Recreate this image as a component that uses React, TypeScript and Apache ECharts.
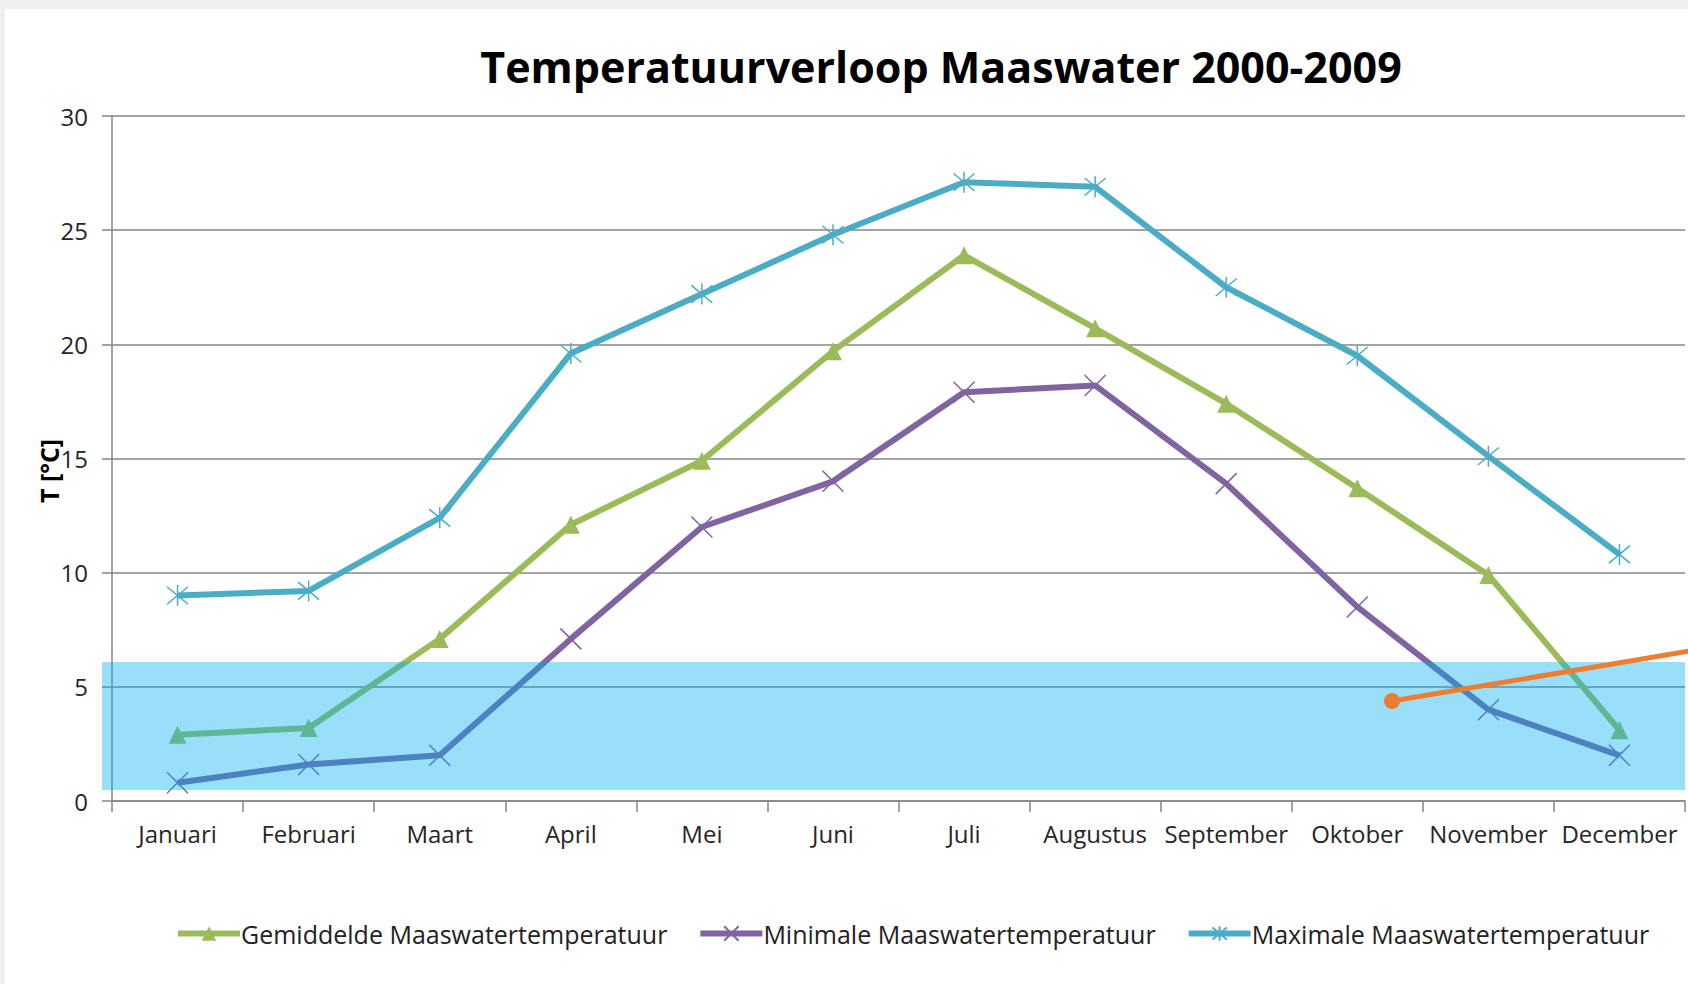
import React, { useEffect, useRef } from "react";
import * as echarts from "echarts";

const months = ["Januari", "Februari", "Maart", "April", "Mei", "Juni", "Juli", "Augustus", "September", "Oktober", "November", "December"];
const gemiddelde = [2.9, 3.2, 7.1, 12.1, 14.9, 19.7, 23.9, 20.7, 17.4, 13.7, 9.9, 3.1];
const minimale = [0.8, 1.6, 2.0, 7.1, 12.0, 14.0, 17.9, 18.2, 13.9, 8.5, 4.0, 2.0];
const maximale = [9.0, 9.2, 12.4, 19.6, 22.2, 24.8, 27.1, 26.9, 22.5, 19.5, 15.1, 10.8];
const seriesNames = ["Gemiddelde Maaswatertemperatuur", "Minimale Maaswatertemperatuur", "Maximale Maaswatertemperatuur"];
const yAxisName = "T [°C]";

const FONT = "'Open Sans', sans-serif";
const AXIS_GRAY = "#868686";

export default function App() {
  const ref = useRef<HTMLDivElement>(null);
  useEffect(() => {
    if (!ref.current) return;
    const chart = echarts.init(ref.current, null, { renderer: "svg" });
    const xSym = "path://M0,0L20,20M20,0L0,20";
    const starSym = "path://M0,0L20,20M20,0L0,20M10,-2L10,22";
    chart.setOption({
      animation: false,
      backgroundColor: "#ffffff",
      textStyle: { fontFamily: FONT },
      title: {
        text: "Temperatuurverloop Maaswater 2000-2009",
        left: 936,
        top: 40,
        textAlign: "center",
        textStyle: { fontFamily: FONT, fontWeight: "bold", fontSize: 43, color: "#000" },
      },
      grid: { left: 112, right: 3, top: 116, bottom: 183, containLabel: false },
      legend: {
        left: 170,
        top: 916,
        itemGap: 30,
        itemWidth: 62,
        itemHeight: 18,
        lineStyle: { width: 6 },
        textStyle: { fontFamily: FONT, fontSize: 25, color: "#222", padding: [0, 0, 0, -4] },
        data: seriesNames,
      },
      xAxis: {
        type: "category",
        data: months,
        boundaryGap: true,
        axisLine: { lineStyle: { color: AXIS_GRAY, width: 1.5 } },
        axisTick: { show: true, length: 11, lineStyle: { color: AXIS_GRAY, width: 1.5 } },
        axisLabel: { fontFamily: FONT, fontSize: 24, color: "#262626", margin: 20, interval: 0 },
        splitLine: { show: false },
      },
      yAxis: {
        type: "value",
        min: 0,
        max: 30,
        interval: 5,
        axisLine: { show: true, lineStyle: { color: AXIS_GRAY, width: 1.5 } },
        axisTick: { show: true, length: 10, lineStyle: { color: AXIS_GRAY, width: 1.5 } },
        axisLabel: { fontFamily: FONT, fontSize: 24, color: "#262626", margin: 24 },
        splitLine: { show: true, lineStyle: { color: AXIS_GRAY, width: 1.5 } },
      },
      series: [
        {
          name: seriesNames[0],
          type: "line",
          data: gemiddelde,
          symbol: "triangle",
          symbolSize: 18,
          lineStyle: { color: "#9BBB59", width: 6 },
          itemStyle: { color: "#9BBB59" },
          z: 3,
        },
        {
          name: seriesNames[1],
          type: "line",
          data: minimale,
          symbol: xSym,
          symbolSize: 21,
          lineStyle: { color: "#8064A2", width: 6 },
          itemStyle: { color: "#8064A2", borderColor: "#8064A2", borderWidth: 1.5 },
          z: 2,
        },
        {
          name: seriesNames[2],
          type: "line",
          data: maximale,
          symbol: starSym,
          symbolSize: 21,
          lineStyle: { color: "#4BACC6", width: 6 },
          itemStyle: { color: "#4BACC6", borderColor: "#4BACC6", borderWidth: 1.5 },
          z: 4,
        },
      ],
      graphic: [
        { type: "rect", z: 50, shape: { x: 0, y: 0, width: 1688, height: 9 }, style: { fill: "#efefef" } },
        { type: "rect", z: 50, shape: { x: 0, y: 0, width: 5, height: 984 }, style: { fill: "#efefef" } },
        {
          type: "text",
          z: 60,
          x: 49,
          y: 471,
          rotation: Math.PI / 2,
          style: { text: yAxisName, fill: "#000", font: `bold 25px ${FONT}`, align: "center", verticalAlign: "middle" },
        },
        { type: "rect", z: 100, shape: { x: 102, y: 662, width: 1583, height: 128 }, style: { fill: "rgba(0,176,240,0.4)" } },
        { type: "line", z: 101, shape: { x1: 1392, y1: 701, x2: 1690, y2: 651 }, style: { stroke: "#ED7D31", lineWidth: 5 } },
        { type: "circle", z: 102, shape: { cx: 1392, cy: 701, r: 8 }, style: { fill: "#ED7D31" } },
      ],
    });
    return () => chart.dispose();
  }, []);
  return <div ref={ref} style={{ position: "fixed", left: 0, top: 0, width: 1688, height: 984 }} />;
}
